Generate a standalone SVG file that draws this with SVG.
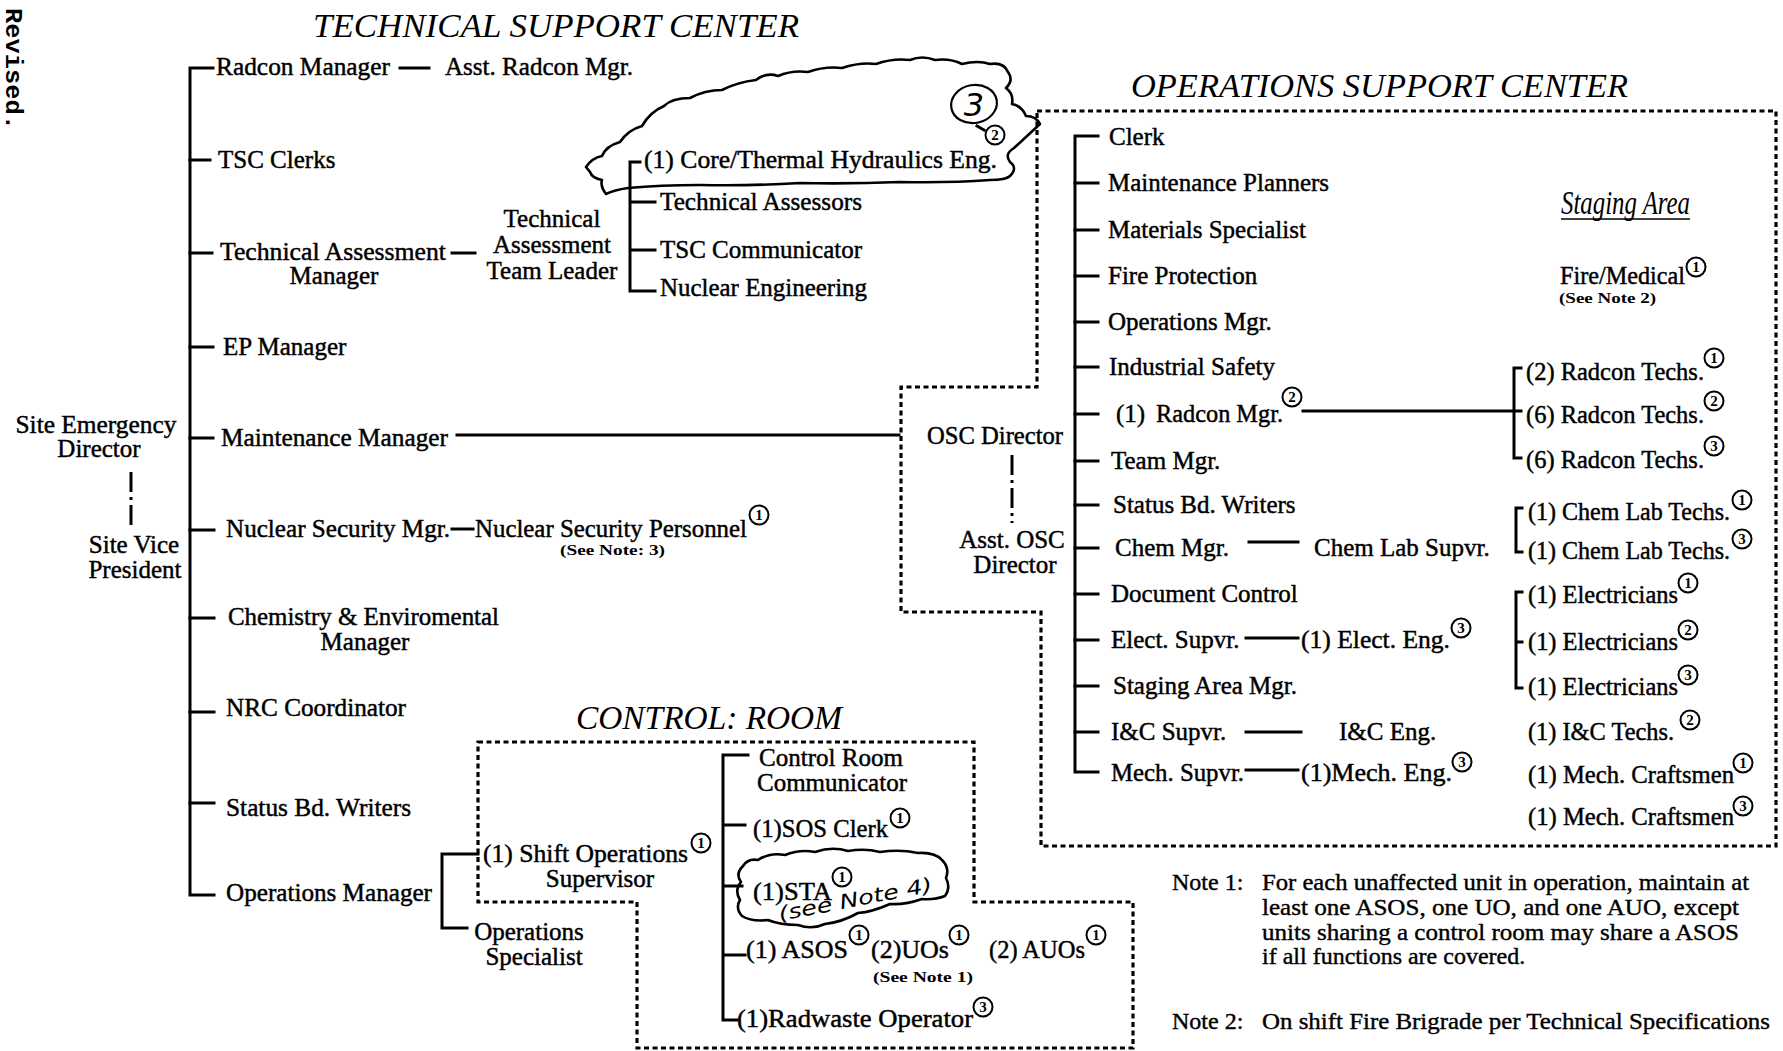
<svg xmlns="http://www.w3.org/2000/svg" width="1783" height="1051" viewBox="0 0 1783 1051">
<style>
.t{font-family:"Liberation Serif","Times New Roman",serif;font-size:25px;fill:#000;stroke:#000;stroke-width:0.45px}
.m{text-anchor:middle}
.ti{font-family:"Liberation Serif","Times New Roman",serif;font-style:italic;font-size:34px;fill:#000}
.sm{font-family:"Liberation Serif","Times New Roman",serif;font-weight:bold;font-size:15px;fill:#000}
.nt{font-family:"Liberation Serif","Times New Roman",serif;font-size:24px;fill:#000;stroke:#000;stroke-width:0.4px}
.ln{fill:none;stroke:#000;stroke-width:3;stroke-linecap:square}
.dd{fill:none;stroke:#000;stroke-width:3;stroke-dasharray:20 5 3 5}
.bd{fill:none;stroke:#000;stroke-width:3.2;stroke-dasharray:5 3.5}
.cl{fill:none;stroke:#000;stroke-width:2.6;stroke-linejoin:round}
.cc{fill:none;stroke:#000;stroke-width:2}
.cd{font-family:"Liberation Serif","Times New Roman",serif;font-weight:bold;font-size:15px;text-anchor:middle;fill:#000}
.hw{font-family:"DejaVu Sans",sans-serif;font-style:italic;fill:#000}
</style>
<rect width="1783" height="1051" fill="#fff"/>

<text transform="translate(6,8) rotate(90)" font-family="'Liberation Mono',monospace" font-weight="bold" font-size="24" textLength="122" lengthAdjust="spacingAndGlyphs">Revised.</text>

<g id="titles">
<text class="ti" x="313" y="37" textLength="486" lengthAdjust="spacingAndGlyphs">TECHNICAL SUPPORT CENTER</text>
<text class="ti" x="1131" y="97" textLength="497" lengthAdjust="spacingAndGlyphs">OPERATIONS SUPPORT CENTER</text>
<text class="ti" x="576" y="729" textLength="266" lengthAdjust="spacingAndGlyphs">CONTROL: ROOM</text>
</g>

<g id="boundaries">
<path class="bd" d="M1037,111 L1776,111 L1776,846 L1041,846 L1041,612 L901,612 L901,387 L1037,387 Z"/>
<path class="bd" d="M478,742 L974,742 L974,902 L1133,902 L1133,1048 L637,1048 L637,902 L478,902 Z"/>
</g>

<g id="annotations">
<path class="cl" d="M586,167 Q592,158 602,156 Q606,146 620,142 Q628,130 642,126 Q650,112 664,106 Q672,98 690,98 Q705,90 722,90 Q738,82 756,80 Q766,72 778,76 Q792,70 808,72 Q825,66 842,68 Q860,62 876,64 Q893,58 910,60 Q922,55 935,60 Q950,58 962,64 Q978,60 990,64 Q1004,62 1008,72 Q1014,80 1006,88 Q1014,94 1012,104 Q1022,106 1026,116 Q1036,116 1040,124 L1014,148 Q1004,154 1010,162 Q1018,168 1010,176 Q1006,180 990,180 Q950,183 900,182 Q850,184 800,183 Q750,186 700,185 Q660,185 628,188 Q614,190 606,194 Q600,186 602,180 Q592,178 590,172 Z"/>
<ellipse cx="974" cy="104" rx="23" ry="19" fill="none" stroke="#000" stroke-width="2.2" transform="rotate(-10 974 104)"/>
<text class="hw" x="974" y="116" font-size="32" text-anchor="middle">3</text>
<path class="cl" d="M743,866 Q748,858 758,860 Q770,852 785,855 Q800,849 815,852 Q832,846 848,851 Q865,848 880,852 Q900,849 918,853 Q935,852 942,860 Q950,868 946,878 Q951,888 945,896 Q935,900 922,899 Q905,905 890,904 Q872,912 858,913 Q842,922 825,924 Q812,930 798,925 Q780,925 768,920 Q752,922 742,916 Q735,908 740,900 Q734,890 741,882 Q735,874 743,866 Z"/>
<text class="hw" x="780" y="921" font-size="20" textLength="156" lengthAdjust="spacingAndGlyphs" transform="rotate(-11 780 921)">(see Note 4)</text>
</g>

<g id="connectors">
<path class="ln" d="M213,68 L190,68 L190,895 L214,895"/>
<path class="ln" d="M190,160 H210 M190,253 H212 M190,347 H213 M190,438 H213 M190,530 H214 M190,618 H214 M190,712 H214 M190,803 H214"/>
<path class="ln" d="M400,68 H429 M452,253 H475 M452,529 H473"/>
<path class="ln" d="M640,162 H630 V291 H655 M630,202 H655 M630,250 H655"/>
<path class="ln" d="M457,435 H899"/>
<path class="ln" d="M478,854 H442 V928 H467"/>
<path class="dd" d="M131,472 V525"/>
<path class="dd" d="M1012,455 V523"/>
<path class="ln" d="M1098,136 H1075 V772 H1098"/>
<path class="ln" d="M1075,183 H1098 M1075,230 H1098 M1075,276 H1098 M1075,322 H1098 M1075,367 H1098 M1075,414 H1098 M1075,461 H1098 M1075,505 H1098 M1075,548 H1098 M1075,594 H1098 M1075,640 H1098 M1075,686 H1098 M1075,732 H1098"/>
<path class="ln" d="M1303,411 H1514 M1521,368 H1514 V458 H1521 M1514,411 H1521"/>
<path class="ln" d="M1249,542 H1298 M1246,638 H1298 M1246,732 H1301 M1246,770 H1298"/>
<path class="ln" d="M1522,508 H1516 V552 H1522"/>
<path class="ln" d="M1522,592 H1516 V688 H1522 M1516,642 H1522"/>
<path class="ln" d="M748,755 H723 V1020 H737 M723,825 H745 M723,886 H742 M723,955 H745"/>
<path class="ln" d="M977,126 L984,130" stroke-width="2"/>
</g>

<g id="n-sed"><text class="t m" x="96" y="433" textLength="161" lengthAdjust="spacingAndGlyphs">Site Emergency</text><text class="t m" x="99" y="457">Director</text></g>
<g id="n-svp"><text class="t m" x="134" y="553">Site Vice</text><text class="t m" x="135" y="578">President</text></g>

<g id="n-radcon-mgr"><text class="t" x="216" y="75" textLength="174" lengthAdjust="spacingAndGlyphs">Radcon Manager</text></g>
<g id="n-asst-radcon"><text class="t" x="445" y="75" textLength="188" lengthAdjust="spacingAndGlyphs">Asst. Radcon Mgr.</text></g>
<g id="n-tsc-clerks"><text class="t" x="218" y="168">TSC Clerks</text></g>
<g id="n-tam"><text class="t" x="220" y="260" textLength="226" lengthAdjust="spacingAndGlyphs">Technical Assessment</text><text class="t m" x="334" y="284">Manager</text></g>
<g id="n-tatl"><text class="t m" x="552" y="227">Technical</text><text class="t m" x="552" y="253">Assessment</text><text class="t m" x="552" y="279">Team Leader</text></g>
<g id="n-core"><text class="t" x="644" y="168" textLength="353" lengthAdjust="spacingAndGlyphs">(1) Core/Thermal Hydraulics Eng.</text><circle class="cc" cx="995" cy="135" r="9.5"/><text class="cd" x="995" y="140">2</text></g>
<g id="n-tech-assessors"><text class="t" x="660" y="210" textLength="202" lengthAdjust="spacingAndGlyphs">Technical Assessors</text></g>
<g id="n-tsc-comm"><text class="t" x="660" y="258" textLength="202" lengthAdjust="spacingAndGlyphs">TSC Communicator</text></g>
<g id="n-nuc-eng"><text class="t" x="660" y="296" textLength="207" lengthAdjust="spacingAndGlyphs">Nuclear Engineering</text></g>
<g id="n-ep"><text class="t" x="223" y="355">EP Manager</text></g>
<g id="n-maint"><text class="t" x="221" y="446" textLength="227" lengthAdjust="spacingAndGlyphs">Maintenance Manager</text></g>
<g id="n-nsm"><text class="t" x="226" y="537" textLength="224" lengthAdjust="spacingAndGlyphs">Nuclear Security Mgr.</text></g>
<g id="n-nsp"><text class="t" x="475" y="537" textLength="272" lengthAdjust="spacingAndGlyphs">Nuclear Security Personnel</text><circle class="cc" cx="759" cy="515" r="9.5"/><text class="cd" x="759" y="520">1</text><text class="sm" x="560" y="555" textLength="105" lengthAdjust="spacingAndGlyphs">(See Note: 3)</text></g>
<g id="n-chem-env"><text class="t" x="228" y="625" textLength="271" lengthAdjust="spacingAndGlyphs">Chemistry &amp; Enviromental</text><text class="t m" x="365" y="650">Manager</text></g>
<g id="n-nrc"><text class="t" x="226" y="716" textLength="180" lengthAdjust="spacingAndGlyphs">NRC Coordinator</text></g>
<g id="n-sbw"><text class="t" x="226" y="816" textLength="185" lengthAdjust="spacingAndGlyphs">Status Bd. Writers</text></g>
<g id="n-opsmgr"><text class="t" x="226" y="901" textLength="206" lengthAdjust="spacingAndGlyphs">Operations Manager</text></g>

<g id="n-osc-dir"><text class="t" x="927" y="444" textLength="136" lengthAdjust="spacingAndGlyphs">OSC Director</text></g>
<g id="n-asst-osc"><text class="t m" x="1012" y="548">Asst. OSC</text><text class="t m" x="1015" y="573">Director</text></g>

<g id="n-clerk"><text class="t" x="1109" y="145">Clerk</text></g>
<g id="n-maint-plan"><text class="t" x="1108" y="191" textLength="221" lengthAdjust="spacingAndGlyphs">Maintenance Planners</text></g>
<g id="n-materials"><text class="t" x="1108" y="238">Materials Specialist</text></g>
<g id="n-fire-prot"><text class="t" x="1108" y="284">Fire Protection</text></g>
<g id="n-ops-mgr-osc"><text class="t" x="1108" y="330">Operations Mgr.</text></g>
<g id="n-ind-safety"><text class="t" x="1109" y="375">Industrial Safety</text></g>
<g id="n-radcon-osc"><text class="t" x="1116" y="422">(1)</text><text class="t" x="1156" y="422" textLength="127" lengthAdjust="spacingAndGlyphs">Radcon Mgr.</text><circle class="cc" cx="1292" cy="397" r="9.5"/><text class="cd" x="1292" y="402">2</text></g>
<g id="n-team-mgr"><text class="t" x="1111" y="469">Team Mgr.</text></g>
<g id="n-status-osc"><text class="t" x="1113" y="513">Status Bd. Writers</text></g>
<g id="n-chem-mgr"><text class="t" x="1115" y="556">Chem Mgr.</text></g>
<g id="n-doc-ctrl"><text class="t" x="1111" y="602">Document Control</text></g>
<g id="n-elect-supvr"><text class="t" x="1111" y="648">Elect. Supvr.</text></g>
<g id="n-staging-mgr"><text class="t" x="1113" y="694">Staging Area Mgr.</text></g>
<g id="n-ic-supvr"><text class="t" x="1111" y="740">I&amp;C Supvr.</text></g>
<g id="n-mech-supvr"><text class="t" x="1111" y="781" textLength="133" lengthAdjust="spacingAndGlyphs">Mech. Supvr.</text></g>

<g id="n-chem-lab-supvr"><text class="t" x="1314" y="556">Chem Lab Supvr.</text></g>
<g id="n-elect-eng"><text class="t" x="1301" y="648" textLength="149" lengthAdjust="spacingAndGlyphs">(1) Elect. Eng.</text><circle class="cc" cx="1461" cy="628" r="9.5"/><text class="cd" x="1461" y="633">3</text></g>
<g id="n-ic-eng"><text class="t" x="1339" y="740">I&amp;C Eng.</text></g>
<g id="n-mech-eng"><text class="t" x="1301" y="781" textLength="151" lengthAdjust="spacingAndGlyphs">(1)Mech. Eng.</text><circle class="cc" cx="1462" cy="762" r="9.5"/><text class="cd" x="1462" y="767">3</text></g>

<g id="n-staging"><text class="ti" x="1561" y="214" font-size="24" textLength="129" lengthAdjust="spacingAndGlyphs">Staging Area</text><line x1="1561" y1="219" x2="1690" y2="219" stroke="#000" stroke-width="1.6"/></g>
<g id="n-fire-med"><text class="t" x="1560" y="284" textLength="125" lengthAdjust="spacingAndGlyphs">Fire/Medical</text><circle class="cc" cx="1696" cy="267" r="9.5"/><text class="cd" x="1696" y="272">1</text><text class="sm" x="1559" y="303" textLength="97" lengthAdjust="spacingAndGlyphs">(See Note 2)</text></g>
<g id="n-radcon-techs-1"><text class="t" x="1526" y="380" textLength="178" lengthAdjust="spacingAndGlyphs">(2) Radcon Techs.</text><circle class="cc" cx="1714" cy="358" r="9.5"/><text class="cd" x="1714" y="363">1</text></g>
<g id="n-radcon-techs-2"><text class="t" x="1526" y="423" textLength="178" lengthAdjust="spacingAndGlyphs">(6) Radcon Techs.</text><circle class="cc" cx="1714" cy="401" r="9.5"/><text class="cd" x="1714" y="406">2</text></g>
<g id="n-radcon-techs-3"><text class="t" x="1526" y="468" textLength="178" lengthAdjust="spacingAndGlyphs">(6) Radcon Techs.</text><circle class="cc" cx="1714" cy="446" r="9.5"/><text class="cd" x="1714" y="451">3</text></g>
<g id="n-chem-lab-1"><text class="t" x="1528" y="520" textLength="202" lengthAdjust="spacingAndGlyphs">(1) Chem Lab Techs.</text><circle class="cc" cx="1742" cy="500" r="9.5"/><text class="cd" x="1742" y="505">1</text></g>
<g id="n-chem-lab-3"><text class="t" x="1528" y="559" textLength="202" lengthAdjust="spacingAndGlyphs">(1) Chem Lab Techs.</text><circle class="cc" cx="1742" cy="539" r="9.5"/><text class="cd" x="1742" y="544">3</text></g>
<g id="n-elec-1"><text class="t" x="1528" y="603" textLength="150" lengthAdjust="spacingAndGlyphs">(1) Electricians</text><circle class="cc" cx="1688" cy="583" r="9.5"/><text class="cd" x="1688" y="588">1</text></g>
<g id="n-elec-2"><text class="t" x="1528" y="650" textLength="150" lengthAdjust="spacingAndGlyphs">(1) Electricians</text><circle class="cc" cx="1688" cy="630" r="9.5"/><text class="cd" x="1688" y="635">2</text></g>
<g id="n-elec-3"><text class="t" x="1528" y="695" textLength="150" lengthAdjust="spacingAndGlyphs">(1) Electricians</text><circle class="cc" cx="1688" cy="675" r="9.5"/><text class="cd" x="1688" y="680">3</text></g>
<g id="n-ic-techs"><text class="t" x="1528" y="740" textLength="146" lengthAdjust="spacingAndGlyphs">(1) I&amp;C Techs.</text><circle class="cc" cx="1690" cy="720" r="9.5"/><text class="cd" x="1690" y="725">2</text></g>
<g id="n-mech-craft-1"><text class="t" x="1528" y="783" textLength="206" lengthAdjust="spacingAndGlyphs">(1) Mech. Craftsmen</text><circle class="cc" cx="1743" cy="763" r="9.5"/><text class="cd" x="1743" y="768">1</text></g>
<g id="n-mech-craft-3"><text class="t" x="1528" y="825" textLength="206" lengthAdjust="spacingAndGlyphs">(1) Mech. Craftsmen</text><circle class="cc" cx="1743" cy="806" r="9.5"/><text class="cd" x="1743" y="811">3</text></g>

<g id="n-sos"><text class="t" x="483" y="862" textLength="205" lengthAdjust="spacingAndGlyphs">(1) Shift Operations</text><circle class="cc" cx="701" cy="843" r="9.5"/><text class="cd" x="701" y="848">1</text><text class="t m" x="600" y="887">Supervisor</text></g>
<g id="n-ops-spec"><text class="t m" x="529" y="940">Operations</text><text class="t m" x="534" y="965">Specialist</text></g>
<g id="n-cr-comm"><text class="t m" x="831" y="766">Control Room</text><text class="t m" x="832" y="791">Communicator</text></g>
<g id="n-sos-clerk"><text class="t" x="753" y="837" textLength="135" lengthAdjust="spacingAndGlyphs">(1)SOS Clerk</text><circle class="cc" cx="900" cy="818" r="9.5"/><text class="cd" x="900" y="823">1</text></g>
<g id="n-sta"><text class="t" x="753" y="900" textLength="79" lengthAdjust="spacingAndGlyphs">(1)STA</text><circle class="cc" cx="842" cy="877" r="9.5"/><text class="cd" x="842" y="882">1</text></g>
<g id="n-asos"><text class="t" x="746" y="958" textLength="102" lengthAdjust="spacingAndGlyphs">(1) ASOS</text><circle class="cc" cx="859" cy="935" r="9.5"/><text class="cd" x="859" y="940">1</text></g>
<g id="n-uos"><text class="t" x="871" y="958" textLength="78" lengthAdjust="spacingAndGlyphs">(2)UOs</text><circle class="cc" cx="959" cy="935" r="9.5"/><text class="cd" x="959" y="940">1</text><text class="sm" x="873" y="982" textLength="100" lengthAdjust="spacingAndGlyphs">(See Note 1)</text></g>
<g id="n-auos"><text class="t" x="989" y="958" textLength="96" lengthAdjust="spacingAndGlyphs">(2) AUOs</text><circle class="cc" cx="1096" cy="935" r="9.5"/><text class="cd" x="1096" y="940">1</text></g>
<g id="n-radwaste"><text class="t" x="737" y="1027" textLength="236" lengthAdjust="spacingAndGlyphs">(1)Radwaste Operator</text><circle class="cc" cx="983" cy="1007" r="9.5"/><text class="cd" x="983" y="1012">3</text></g>

<g id="notes">
<text class="nt" x="1172" y="890">Note 1:</text>
<text class="nt" x="1262" y="890" textLength="487" lengthAdjust="spacingAndGlyphs">For each unaffected unit in operation, maintain at</text>
<text class="nt" x="1262" y="915" textLength="477" lengthAdjust="spacingAndGlyphs">least one ASOS, one UO, and one AUO, except</text>
<text class="nt" x="1262" y="940" textLength="477" lengthAdjust="spacingAndGlyphs">units sharing a control room may share a ASOS</text>
<text class="nt" x="1262" y="964">if all functions are covered.</text>
<text class="nt" x="1172" y="1029">Note 2:</text>
<text class="nt" x="1262" y="1029" textLength="508" lengthAdjust="spacingAndGlyphs">On shift Fire Brigrade per Technical Specifications</text>
</g>
</svg>
